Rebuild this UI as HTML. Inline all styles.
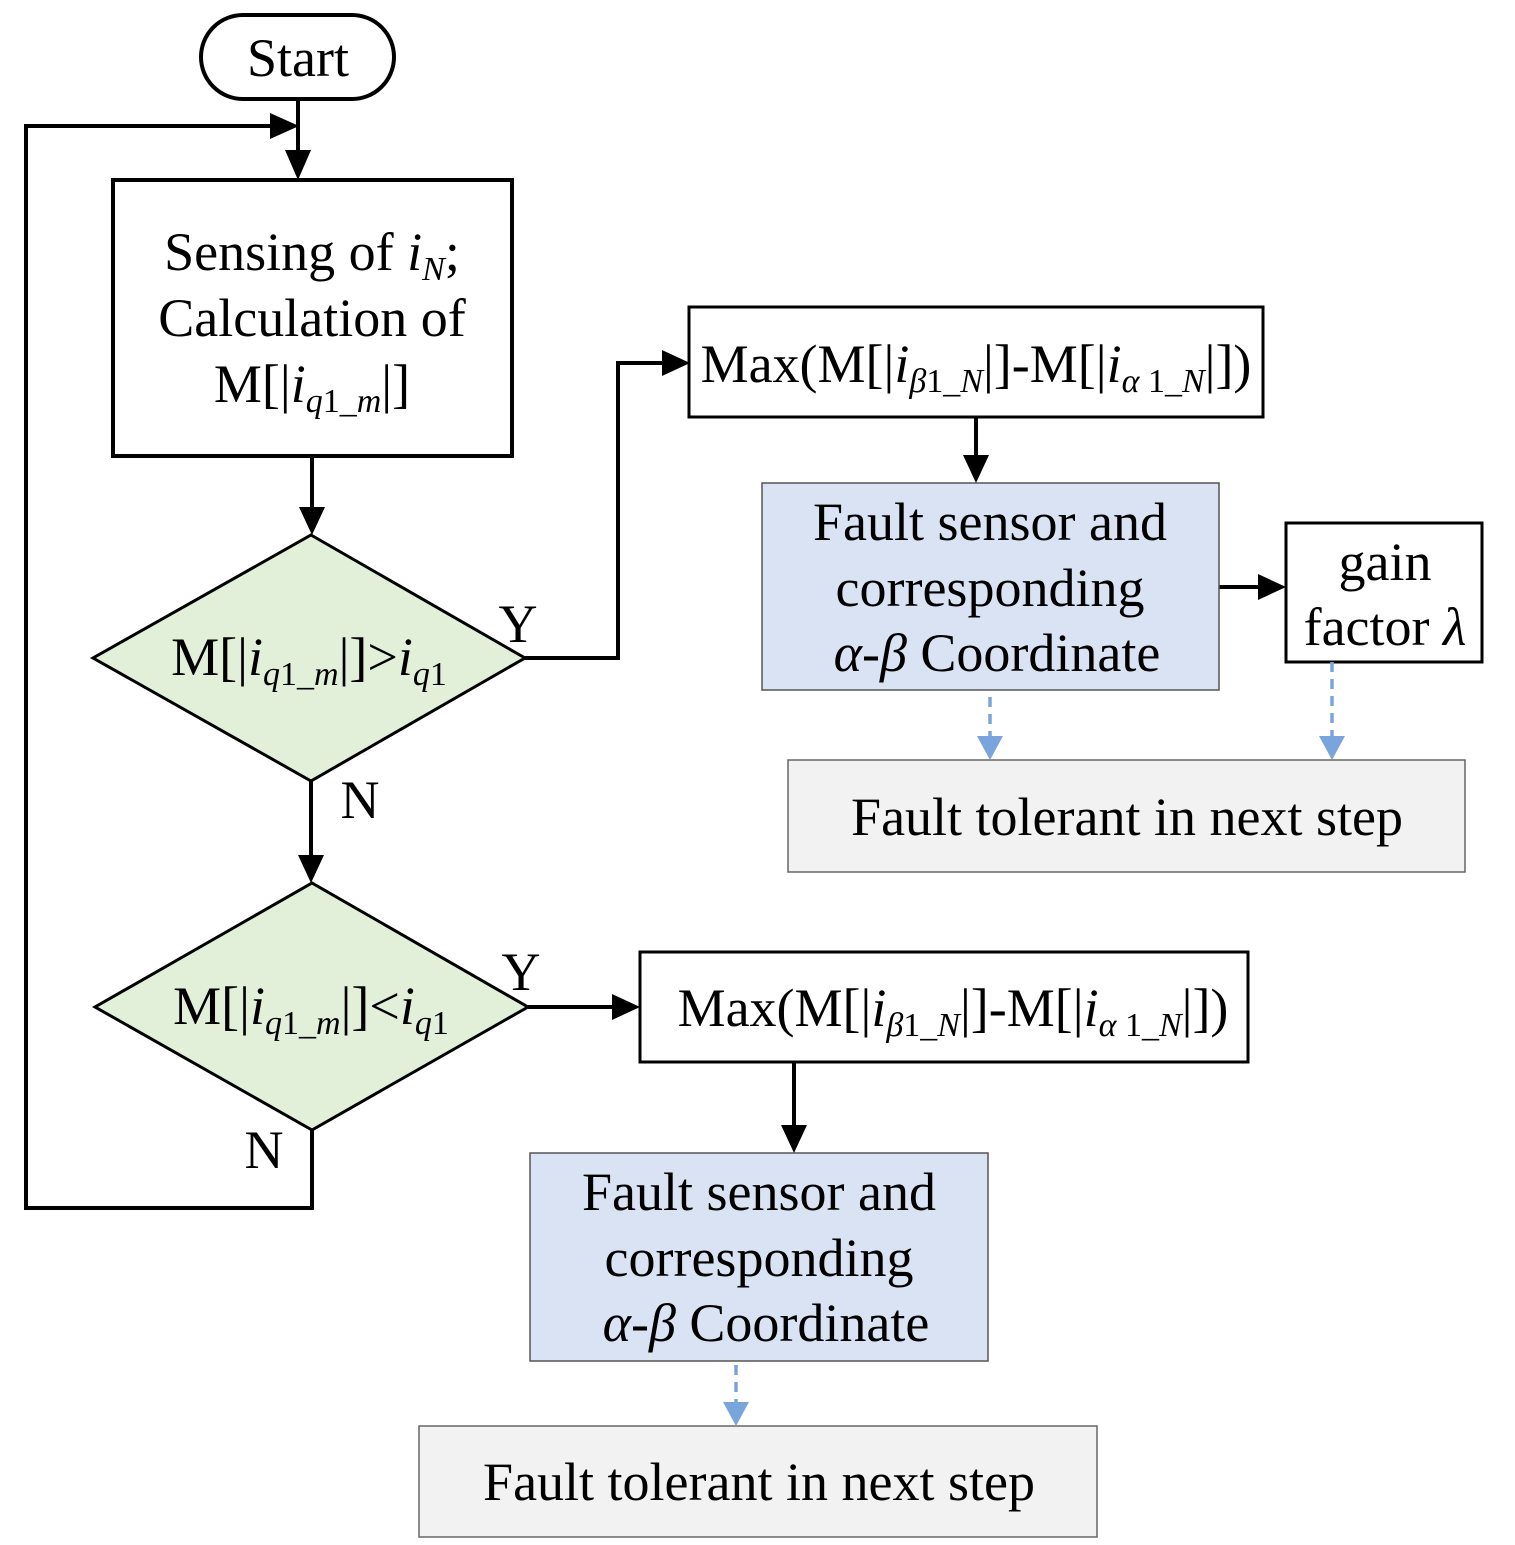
<!DOCTYPE html>
<html><head><meta charset="utf-8"><style>
html,body{margin:0;padding:0;background:#fff}
svg{display:block}
text{font-family:"Liberation Serif",serif;font-size:54px;fill:#000}
.s{font-size:34px;font-style:italic}
.n{font-size:34px}
.i{font-style:italic}
</style></head><body>
<svg width="1515" height="1545" viewBox="0 0 1515 1545" xmlns="http://www.w3.org/2000/svg">
<g stroke="#000" stroke-width="4" fill="none">
<rect x="201" y="15" width="193" height="84" rx="42" fill="#fff"/>
<line x1="298" y1="99" x2="298" y2="155"/>
<polyline points="312,1130 312,1208 26,1208 26,126 272,126"/>
<rect x="113" y="180" width="399" height="276" fill="#fff"/>
<line x1="312" y1="456" x2="312" y2="510"/>
<polygon points="311,535 525,658 311,781 93,658" fill="#e2efd9" stroke-width="3"/>
<polyline points="525,658 618,658 618,363 664,363"/>
<rect x="689" y="307" width="574" height="110" fill="#fff" stroke-width="3"/>
<line x1="976" y1="417" x2="976" y2="458"/>
<line x1="1217" y1="587" x2="1260" y2="587"/>
<rect x="1286" y="523" width="196" height="139" fill="#fff" stroke-width="3"/>
<line x1="311" y1="781" x2="311" y2="858"/>
<polygon points="312,883 528,1007 312,1130 95,1007" fill="#e2efd9" stroke-width="3"/>
<line x1="528" y1="1007" x2="614" y2="1007"/>
<rect x="640" y="952" width="608" height="110" fill="#fff" stroke-width="3"/>
<line x1="794" y1="1062" x2="794" y2="1128"/>
</g>
<g fill="#000">
<path d="M285,150 L311,150 L298,180z"/>
<path d="M270,113 L270,139 L299,126z"/>
<path d="M299,507 L325,507 L312,535z"/>
<path d="M662,350 L662,376 L690,363z"/>
<path d="M963,455 L989,455 L976,483z"/>
<path d="M1258,574 L1258,600 L1286,587z"/>
<path d="M298,855 L324,855 L311,883z"/>
<path d="M612,994 L612,1020 L640,1007z"/>
<path d="M781,1125 L807,1125 L794,1153z"/>
</g>
<rect x="762" y="483" width="457" height="207" fill="#dae3f3" stroke="#555" stroke-width="1.5"/>
<rect x="530" y="1153" width="458" height="208" fill="#dae3f3" stroke="#555" stroke-width="1.5"/>
<rect x="788" y="760" width="677" height="112" fill="#f2f2f2" stroke="#666" stroke-width="1.5"/>
<rect x="419" y="1426" width="678" height="111" fill="#f2f2f2" stroke="#666" stroke-width="1.5"/>
<g stroke="#7aa5dc" stroke-width="3.5" stroke-dasharray="10,7" fill="none">
<line x1="990" y1="697" x2="990" y2="742"/>
<line x1="1332" y1="662" x2="1332" y2="742"/>
<line x1="736" y1="1365" x2="736" y2="1407"/>
</g>
<g fill="#7aa5dc">
<path d="M977,736 L1003,736 L990,760z"/>
<path d="M1319,736 L1345,736 L1332,760z"/>
<path d="M723,1402 L749,1402 L736,1426z"/>
</g>
<text x="298" y="76" text-anchor="middle">Start</text>
<text x="312" y="270" text-anchor="middle">Sensing of <tspan class="i">i</tspan><tspan class="s" dy="10">N</tspan><tspan dy="-10">;</tspan></text>
<text x="312" y="336" text-anchor="middle">Calculation of</text>
<text x="312" y="402" text-anchor="middle">M[|<tspan class="i">i</tspan><tspan class="s" dy="10">q</tspan><tspan class="n">1_</tspan><tspan class="s">m</tspan><tspan dy="-10">|]</tspan></text>
<text x="309" y="675" text-anchor="middle">M[|<tspan class="i">i</tspan><tspan class="s" dy="10">q</tspan><tspan class="n">1_</tspan><tspan class="s">m</tspan><tspan dy="-10">|]&gt;</tspan><tspan class="i">i</tspan><tspan class="s" dy="10">q</tspan><tspan class="n">1</tspan></text>
<text x="311" y="1024" text-anchor="middle">M[|<tspan class="i">i</tspan><tspan class="s" dy="10">q</tspan><tspan class="n">1_</tspan><tspan class="s">m</tspan><tspan dy="-10">|]&lt;</tspan><tspan class="i">i</tspan><tspan class="s" dy="10">q</tspan><tspan class="n">1</tspan></text>
<text x="518" y="642" text-anchor="middle">Y</text>
<text x="360" y="818" text-anchor="middle">N</text>
<text x="521" y="990" text-anchor="middle">Y</text>
<text x="264" y="1168" text-anchor="middle">N</text>
<text x="976" y="382" text-anchor="middle">Max(M[|<tspan class="i">i</tspan><tspan class="s" dy="10">β</tspan><tspan class="n">1_</tspan><tspan class="s">N</tspan><tspan dy="-10">|]-M[|</tspan><tspan class="i">i</tspan><tspan class="s" dy="10">α</tspan><tspan class="n"> 1_</tspan><tspan class="s">N</tspan><tspan dy="-10">|])</tspan></text>
<text x="953" y="1026" text-anchor="middle">Max(M[|<tspan class="i">i</tspan><tspan class="s" dy="10">β</tspan><tspan class="n">1_</tspan><tspan class="s">N</tspan><tspan dy="-10">|]-M[|</tspan><tspan class="i">i</tspan><tspan class="s" dy="10">α</tspan><tspan class="n"> 1_</tspan><tspan class="s">N</tspan><tspan dy="-10">|])</tspan></text>
<text x="990" y="540" text-anchor="middle">Fault sensor and</text>
<text x="990" y="606" text-anchor="middle">corresponding</text>
<text x="997" y="671" text-anchor="middle"><tspan class="i">α-β</tspan> Coordinate</text>
<text x="1385" y="580" text-anchor="middle">gain</text>
<text x="1385" y="645" text-anchor="middle">factor <tspan class="i">λ</tspan></text>
<text x="1127" y="835" text-anchor="middle">Fault tolerant in next step</text>
<text x="759" y="1210" text-anchor="middle">Fault sensor and</text>
<text x="759" y="1276" text-anchor="middle">corresponding</text>
<text x="766" y="1341" text-anchor="middle"><tspan class="i">α-β</tspan> Coordinate</text>
<text x="759" y="1500" text-anchor="middle">Fault tolerant in next step</text>
</svg>
</body></html>
